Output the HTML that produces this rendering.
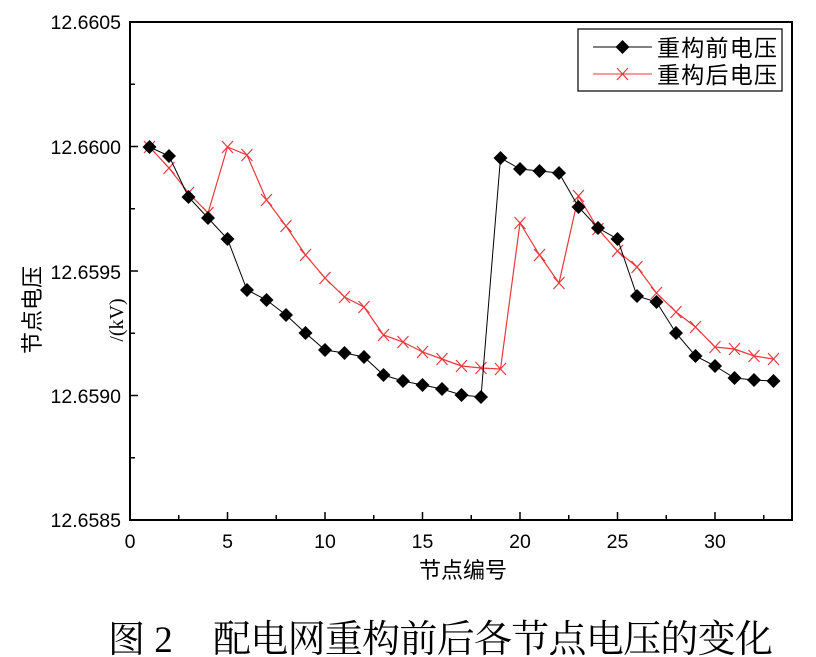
<!DOCTYPE html>
<html><head><meta charset="utf-8"><style>
html,body{margin:0;padding:0;background:#fff;}
svg{display:block;}
</style></head><body>
<svg id="s" width="816" height="657" xmlns="http://www.w3.org/2000/svg" font-family="Liberation Sans, Noto Sans CJK SC, sans-serif">
<rect width="816" height="657" fill="#fff"/>
<rect x="130" y="22" width="662" height="498" fill="none" stroke="#000" stroke-width="2"/>
<g id="ticks" stroke="#000" stroke-width="1.5"></g>
<g font-size="19.5" text-anchor="end" fill="#000">
<text x="121" y="29">12.6605</text>
<text x="121" y="154">12.6600</text>
<text x="121" y="279">12.6595</text>
<text x="121" y="403">12.6590</text>
<text x="121" y="527">12.6585</text>
</g>
<g font-size="19.5" text-anchor="middle" fill="#000">
<text x="130" y="548">0</text><text x="227.5" y="548">5</text><text x="325" y="548">10</text>
<text x="422.5" y="548">15</text><text x="520" y="548">20</text><text x="617.5" y="548">25</text><text x="715" y="548">30</text>
</g>
<text x="463" y="578" font-size="22" text-anchor="middle" font-family="Noto Sans CJK SC, sans-serif">节点编号</text>
<text transform="translate(40,310) rotate(-90)" font-size="22" text-anchor="middle" font-family="Noto Sans CJK SC, sans-serif">节点电压</text>
<text transform="translate(123,320) rotate(-90)" font-size="20" text-anchor="middle" font-family="Liberation Serif, serif">/(kV)</text>
<g id="series"></g>
<rect x="578" y="29" width="204" height="62" fill="#fff" stroke="#000" stroke-width="1.2"/>
<line x1="593" y1="47" x2="652" y2="47" stroke="#000" stroke-width="1"/>
<polygon points="622.5,40 629.5,47 622.5,54 615.5,47" fill="#000"/>
<line x1="593" y1="74" x2="652" y2="74" stroke="#e8383d" stroke-width="1"/>
<path d="M617,68 L628,80 M628,68 L617,80" stroke="#e8383d" stroke-width="1.2"/>
<g font-size="23" font-family="Noto Sans CJK SC, sans-serif"><text x="657" y="56" textLength="120">重构前电压</text><text x="657" y="83" textLength="120">重构后电压</text></g>
<text x="108" y="652" font-size="37" font-family="Liberation Serif, Noto Serif CJK SC, serif">图 2</text>
<text x="213" y="652" font-size="38" textLength="560" font-family="Noto Serif CJK SC, serif">配电网重构前后各节点电压的变化</text>
</svg>
<script>
var NS="http://www.w3.org/2000/svg";
function el(t,a,p){var e=document.createElementNS(NS,t);for(var k in a)e.setAttribute(k,a[k]);p.appendChild(e);return e;}
var tk=document.getElementById("ticks");
for(var v=0;v<=32.5;v+=2.5){var x=130+19.5*v;var L=(v%5==0)?8:5;el("line",{x1:x,y1:520,x2:x,y2:520-L},tk);}
for(var j=0;j<=8;j++){var y=520-62.25*j;var L=(j%2==0)?8:5;el("line",{x1:130,y1:y,x2:130+L,y2:y},tk);}
var b=[147,156,197,218,239,290,300,315,333,350,353,357,375,381,385,389,395,397,158,169,171,173,207,228,239,296,302,333,356,366,378,380,381];
var r=[147,168,193,213,147,155,200,226,255,278,297,307,335,342,352,359,366,368,369,223,255,283,196,229,251,267,293,312,327,347,349,356,359];
var g=document.getElementById("series");
function pts(a){return a.map(function(y,i){return (130+19.5*(i+1))+","+y}).join(" ");}
el("polyline",{points:pts(r),fill:"none",stroke:"#e8383d","stroke-width":1.2},g);
r.forEach(function(y,i){var x=130+19.5*(i+1);el("path",{d:"M"+(x-5.5)+","+(y-6)+"L"+(x+5.5)+","+(y+6)+"M"+(x+5.5)+","+(y-6)+"L"+(x-5.5)+","+(y+6),stroke:"#e8383d","stroke-width":1.2,fill:"none"},g);});
el("polyline",{points:pts(b),fill:"none",stroke:"#000","stroke-width":1},g);
b.forEach(function(y,i){var x=130+19.5*(i+1);el("polygon",{points:x+","+(y-7)+" "+(x+7)+","+y+" "+x+","+(y+7)+" "+(x-7)+","+y,fill:"#000"},g);});
</script>
</body></html>
